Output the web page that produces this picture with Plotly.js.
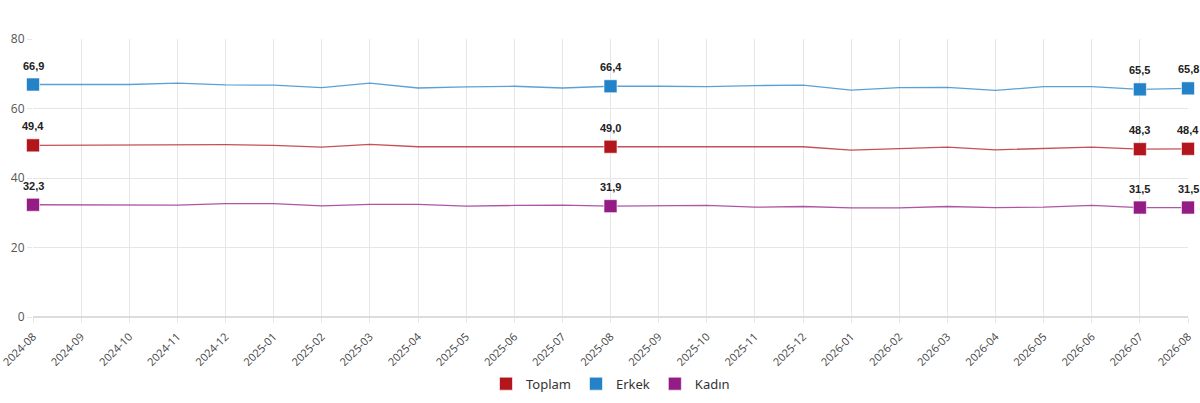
<!DOCTYPE html>
<html>
<head>
<meta charset="utf-8">
<script src="https://cdn.plot.ly/plotly-3.0.1.min.js"></script>
<style>
  html, body { margin: 0; padding: 0; background: #fff; }
  #chart { width: 1200px; height: 403px; }
</style>
</head>
<body>
<div id="chart"></div>
<script>
const months = [
  "2024-08", "2024-09", "2024-10", "2024-11", "2024-12",
  "2025-01", "2025-02", "2025-03", "2025-04", "2025-05", "2025-06", "2025-07",
  "2025-08", "2025-09", "2025-10", "2025-11", "2025-12",
  "2026-01", "2026-02", "2026-03", "2026-04", "2026-05", "2026-06", "2026-07", "2026-08"
];

const toplam = [49.4, 49.5, 49.4, 49.6, 49.6, 49.4, 48.9, 49.7, 49.0, 49.0, 49.0, 48.9,
                49.0, 49.0, 49.0, 48.9, 49.0, 48.0, 48.5, 48.9, 48.1, 48.6, 48.9, 48.3, 48.4];
const erkek = [66.9, 67.0, 66.9, 67.3, 66.8, 66.7, 66.0, 67.3, 65.9, 66.2, 66.4, 65.9,
               66.4, 66.4, 66.3, 66.6, 66.7, 65.3, 66.0, 66.1, 65.2, 66.3, 66.3, 65.5, 65.8];
const kadin = [32.3, 32.3, 32.4, 32.2, 32.6, 32.6, 32.0, 32.4, 32.4, 31.9, 32.1, 32.2,
               31.9, 31.9, 32.1, 31.6, 31.8, 31.4, 31.4, 31.8, 31.5, 31.6, 32.1, 31.5, 31.5];

// points that get a marker and a value label
const labelIdx = [0, 12, 23, 24];

const series = [
  { name: "Toplam", values: toplam, color: "#b3151c", line: "rgba(179,21,28,0.75)" },
  { name: "Erkek", values: erkek, color: "#2482c8", line: "rgba(36,130,200,0.75)" },
  { name: "Kadın", values: kadin, color: "#931c85", line: "rgba(147,28,133,0.75)" },
];

const fmt = v => v.toFixed(1).replace(".", ",");

const data = [];
const annotations = [];
series.forEach(s => {
  data.push({
    x: months,
    y: s.values,
    type: "scatter",
    mode: "lines",
    line: { color: s.line, width: 1.3 },
    showlegend: false,
    hoverinfo: "skip",
  });
});
series.forEach(s => {
  data.push({
    x: labelIdx.map(i => months[i]),
    y: labelIdx.map(i => s.values[i]),
    type: "scatter",
    mode: "markers",
    name: s.name,
    marker: { symbol: "square", size: 13, color: s.color, line: { color: "rgba(255,255,255,0.6)", width: 1 } },
    cliponaxis: false,
  });
  labelIdx.forEach(i => {
    annotations.push({
      x: months[i],
      y: s.values[i],
      xref: "x",
      yref: "y",
      text: "<b>" + fmt(s.values[i]) + "</b>",
      showarrow: false,
      yshift: 19,
      font: { family: "Liberation Sans, Arial, sans-serif", size: 11, color: "#222" },
    });
  });
});

const layout = {
  width: 1200,
  height: 403,
  margin: { l: 33, r: 12, t: 39, b: 86, autoexpand: false },
  paper_bgcolor: "#fff",
  plot_bgcolor: "#fff",
  font: { family: "Open Sans, sans-serif", size: 12, color: "#444" },
  annotations,
  xaxis: {
    type: "category",
    range: [0, months.length - 1],
    tickangle: -45,
    automargin: false,
    showgrid: true,
    gridcolor: "#e6e6e6",
    gridwidth: 1,
    ticks: "outside",
    ticklen: 5,
    tickcolor: "#e6e6e6",
    showline: false,
    zeroline: false,
    ticklabelstandoff: 3,
    tickfont: { size: 11, color: "#444" },
  },
  yaxis: {
    range: [0, 80],
    dtick: 20,
    automargin: false,
    showgrid: true,
    gridcolor: "#e6e6e6",
    zeroline: true,
    zerolinecolor: "#dcdcdc",
    zerolinewidth: 1.5,
    ticks: "outside",
    ticklen: 5,
    tickcolor: "#e6e6e6",
    tickfont: { size: 12, color: "#555" },
  },
  legend: {
    orientation: "h",
    x: 0.5,
    xanchor: "center",
    y: -0.24,
    yanchor: "middle",
    font: { family: "Noto Sans, sans-serif", size: 13, color: "#333" },
    itemwidth: 30,
  },
  showlegend: true,
};

Plotly.newPlot("chart", data, layout, { displayModeBar: false, staticPlot: true });
</script>
</body>
</html>
